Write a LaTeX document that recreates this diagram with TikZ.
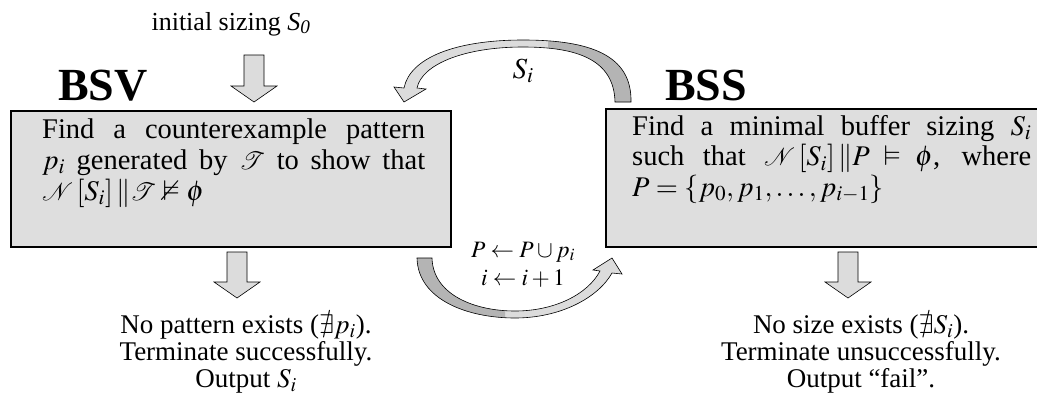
\documentclass[tikz,border=0pt]{standalone}
\usepackage{mathptmx}
\usepackage{amssymb}
\usepackage{mathrsfs}
\usepackage{fontspec}
\setmainfont{Liberation Serif}
\definecolor{boxgray}{HTML}{DEDEDE}
\definecolor{arrowlight}{HTML}{DCDCDC}
\definecolor{arrowdark}{HTML}{B4B4B4}
\newcommand{\toparrowpath}{(631,102) .. controls (632,55) and (590,40) .. (523,40) .. controls (455,40) and (410,58) .. (404,88) -- (394,87) -- (404,102) -- (426,89) -- (417,88) .. controls (422,64) and (465,47) .. (523,47) .. controls (578,47) and (614,60) .. (615,102) -- cycle}
\newcommand{\botarrowpath}{(417,258) .. controls (418,300) and (468,318) .. (515,318) .. controls (560,318) and (598,298) .. (612,273) -- (622,274) -- (612,258) -- (593,270) -- (600,271) .. controls (588,294) and (555,311) .. (515,311) .. controls (475,311) and (433,295) .. (432,258) -- cycle}
\newcommand{\blockdown}[3]{%
  \draw[blk] (#1-10,#2) -- (#1+10,#2) -- (#1+10,#3-16) -- (#1+23,#3-16) -- (#1,#3) -- (#1-23,#3-16) -- (#1-10,#3-16) -- cycle;}
\begin{document}
\begin{tikzpicture}[x=1pt,y=-1pt,
  box/.style={draw, line width=2.4pt, fill=boxgray, inner sep=0pt},
  blk/.style={draw=black, line width=0.6pt, fill=arrowlight},
  txt/.style={inner sep=0pt},
  bottxt/.style={font=\fontsize{27}{27}\selectfont, inner sep=0pt, align=center},
  title/.style={font=\bfseries\fontsize{46}{50}\selectfont, inner sep=0pt}]
\useasboundingbox (0,0) rectangle (1037,418);
\clip (0,0) rectangle (1037,418);

% boxes
\node[box, minimum width=440pt, minimum height=136pt, anchor=north west] (bsv) at (10,110) {};
\node[box, minimum width=440pt, minimum height=138pt, anchor=north west] (bss) at (605,108) {};

\node[txt, font=\fontsize{28.5}{31}\selectfont, text width=383pt, align=justify, anchor=north west] (bsvtext) at (42,118.5)
  {Find a counterexample pattern\linebreak
   $p_i$ generated by $\mathscr{T}$ to show that\linebreak
   $\mathscr{N}\left[S_i\right]\|\mathscr{T}\nvDash\phi$};
\node[txt, font=\fontsize{28.5}{30.5}\selectfont, text width=399pt, align=justify, anchor=north west] (bsstext) at (632,115)
  {Find a minimal buffer sizing $S_i$\linebreak
   such that $\mathscr{N}\left[S_i\right]\|P\vDash\phi$, where\linebreak
   $P=\{p_0,p_1,\ldots,p_{i-1}\}$};

% titles
\node[title, anchor=base] (bsvlabel) at (103,100) {BSV};
\node[title, anchor=base] (bsslabel) at (706,100) {BSS};

% initial sizing
\node[font=\fontsize{26}{30}\selectfont, inner sep=0pt, anchor=base] (init) at (231,30) {initial sizing \textit{S}\textsubscript{\textit{0}}};

% straight block arrows
\blockdown{254}{55}{102}
\blockdown{237}{252}{298}
\blockdown{848}{252}{298}

% curved arrow top
\fill[arrowlight] \toparrowpath;
\begin{scope}
  \clip (548,0) rectangle (700,140);
  \fill[arrowdark] \toparrowpath;
\end{scope}
\draw[line width=0.6pt] \toparrowpath;

% curved arrow bottom
\fill[arrowlight] \botarrowpath;
\begin{scope}
  \clip (380,240) rectangle (505,340);
  \fill[arrowdark] \botarrowpath;
\end{scope}
\draw[line width=0.6pt] \botarrowpath;

% loop labels
\node[font=\fontsize{29}{30}\selectfont, inner sep=0pt, anchor=base] (si) at (523,78) {$S_i$};
\node[inner sep=0pt, font=\fontsize{23.5}{24}\selectfont, anchor=base] (upd1) at (523,257) {$P\leftarrow P\cup p_i$};
\node[inner sep=0pt, font=\fontsize{23.5}{24}\selectfont, anchor=base] (upd2) at (523,285) {$i\leftarrow i+1$};

% outcomes
\node[bottxt, anchor=north] (okres) at (246,315) {No pattern exists ($\nexists p_i$).\\Terminate successfully.\\Output $S_i$};
\node[bottxt, anchor=north] (failres) at (861,315) {No size exists ($\nexists S_i$).\\Terminate unsuccessfully.\\Output ``fail''.};
\end{tikzpicture}
\end{document}
